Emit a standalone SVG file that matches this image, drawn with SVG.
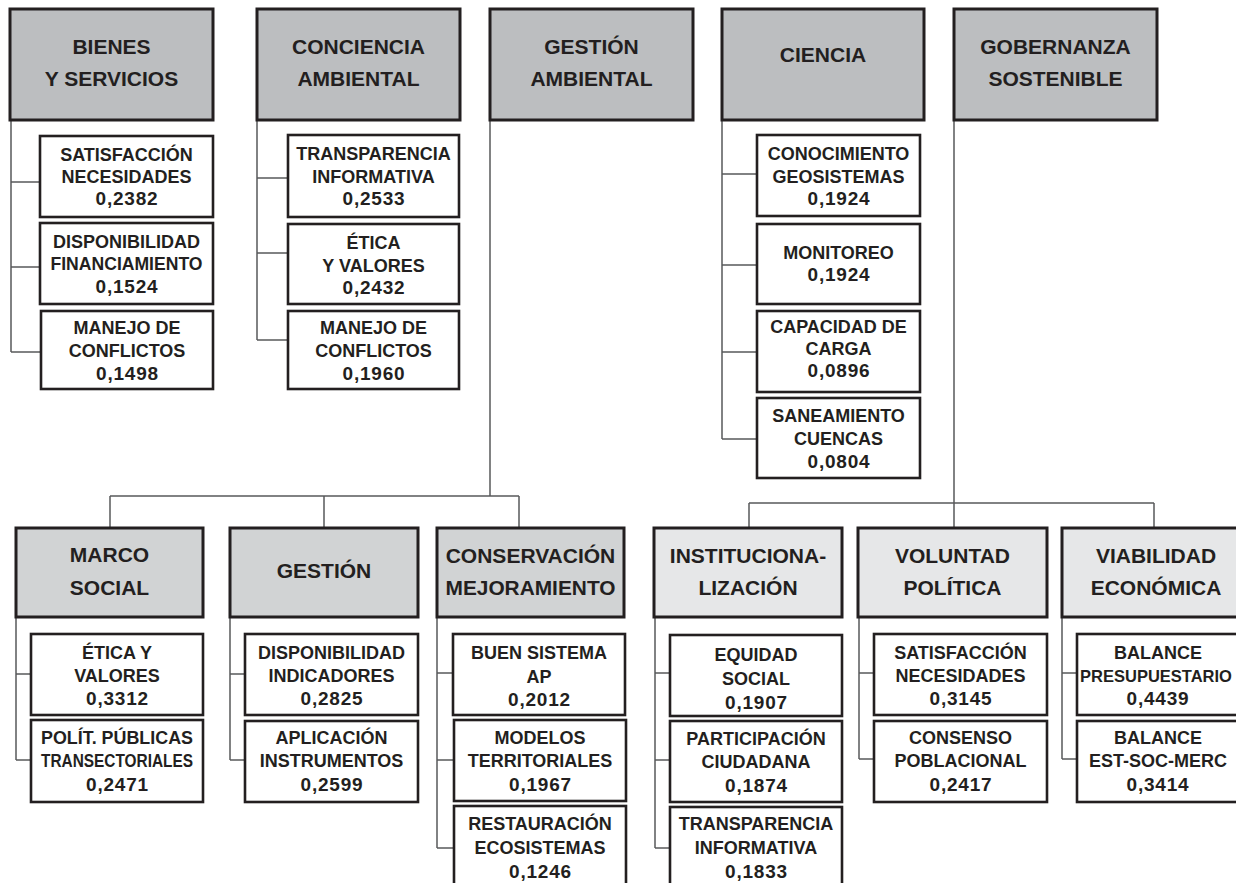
<svg xmlns="http://www.w3.org/2000/svg" width="1236" height="883" viewBox="0 0 1236 883">
<style>
.h1{fill:#bcbec0;stroke:#231f20;stroke-width:3}
.h2{fill:#d1d3d4;stroke:#231f20;stroke-width:3}
.h3{fill:#e6e7e8;stroke:#231f20;stroke-width:3}
.bx{fill:#ffffff;stroke:#231f20;stroke-width:2.6}
text{font-family:"Liberation Sans",Arial,sans-serif;font-weight:bold;fill:#231f20;text-anchor:middle}
.ht{font-size:21px}
.ct{font-size:18px}
.nm{font-size:19px;letter-spacing:0.8px}
.cn{fill:none;stroke:#58595b;stroke-width:1.5}
</style>
<rect width="1236" height="883" fill="#ffffff"/>
<g id="connectors">
<path class="cn" d="M11,120V352M11,182H40M11,267H40M11,352H41"/>
<path class="cn" d="M257,120V340M257,178H288M257,253H288M257,340H288"/>
<path class="cn" d="M490,120V496M110,496H519M110,496V528M324,496V528M519,496V528"/>
<path class="cn" d="M722,120V439M722,174H757M722,265H757M722,352H757M722,439H757"/>
<path class="cn" d="M954,120V528M749,503H1154M749,503V528M1154,503V528"/>
<path class="cn" d="M16,617V760M16,674H31M16,760H31"/>
<path class="cn" d="M230,617V760M230,674H245M230,760H245"/>
<path class="cn" d="M437,617V848M437,673H453M437,760H453M437,848H453"/>
<path class="cn" d="M655,617V848M655,673H670M655,760H670M655,848H670"/>
<path class="cn" d="M859,617V759M859,673H874M859,759H874"/>
<path class="cn" d="M1062,617V759M1062,673H1077M1062,759H1077"/>
</g>
<g id="bienes"><rect class="h1" x="10" y="9" width="203" height="111"/><text class="ht" x="111.5" y="54">BIENES</text><text class="ht" x="111.5" y="86">Y SERVICIOS</text></g>
<g id="bienes-1"><rect class="bx" x="40" y="136" width="173" height="81"/><text class="ct" x="126.5" y="161">SATISFACCIÓN</text><text class="ct" x="126.5" y="183">NECESIDADES</text><text class="nm" x="127" y="205">0,2382</text></g>
<g id="bienes-2"><rect class="bx" x="40" y="223" width="173" height="81"/><text class="ct" x="126.5" y="248">DISPONIBILIDAD</text><text class="ct" x="126.5" y="270" textLength="152" lengthAdjust="spacingAndGlyphs">FINANCIAMIENTO</text><text class="nm" x="127" y="293">0,1524</text></g>
<g id="bienes-3"><rect class="bx" x="41" y="311" width="172" height="78"/><text class="ct" x="127" y="334">MANEJO DE</text><text class="ct" x="127" y="357">CONFLICTOS</text><text class="nm" x="127.5" y="380">0,1498</text></g>
<g id="conciencia"><rect class="h1" x="257" y="9" width="203" height="111"/><text class="ht" x="358.5" y="54">CONCIENCIA</text><text class="ht" x="358.5" y="86">AMBIENTAL</text></g>
<g id="conciencia-1"><rect class="bx" x="288" y="135" width="171" height="82"/><text class="ct" x="373.5" y="160">TRANSPARENCIA</text><text class="ct" x="373.5" y="183">INFORMATIVA</text><text class="nm" x="374" y="205">0,2533</text></g>
<g id="conciencia-2"><rect class="bx" x="288" y="224" width="171" height="80"/><text class="ct" x="373.5" y="249">ÉTICA</text><text class="ct" x="373.5" y="272">Y VALORES</text><text class="nm" x="374" y="294">0,2432</text></g>
<g id="conciencia-3"><rect class="bx" x="288" y="311" width="171" height="78"/><text class="ct" x="373.5" y="334">MANEJO DE</text><text class="ct" x="373.5" y="357">CONFLICTOS</text><text class="nm" x="374" y="380">0,1960</text></g>
<g id="gestion-ambiental"><rect class="h1" x="490" y="9" width="203" height="111"/><text class="ht" x="591.5" y="54">GESTIÓN</text><text class="ht" x="591.5" y="86">AMBIENTAL</text></g>
<g id="ciencia"><rect class="h1" x="722" y="9" width="202" height="111"/><text class="ht" x="823" y="62">CIENCIA</text></g>
<g id="ciencia-1"><rect class="bx" x="757" y="135" width="163" height="81"/><text class="ct" x="838.5" y="160">CONOCIMIENTO</text><text class="ct" x="838.5" y="183">GEOSISTEMAS</text><text class="nm" x="839" y="205">0,1924</text></g>
<g id="ciencia-2"><rect class="bx" x="757" y="224" width="163" height="80"/><text class="ct" x="838.5" y="259">MONITOREO</text><text class="nm" x="839" y="281">0,1924</text></g>
<g id="ciencia-3"><rect class="bx" x="757" y="311" width="163" height="81"/><text class="ct" x="838.5" y="333">CAPACIDAD DE</text><text class="ct" x="838.5" y="355">CARGA</text><text class="nm" x="839" y="377">0,0896</text></g>
<g id="ciencia-4"><rect class="bx" x="757" y="398" width="163" height="80"/><text class="ct" x="838.5" y="422">SANEAMIENTO</text><text class="ct" x="838.5" y="445">CUENCAS</text><text class="nm" x="839" y="468">0,0804</text></g>
<g id="gobernanza"><rect class="h1" x="954" y="9" width="203" height="111"/><text class="ht" x="1055.5" y="54">GOBERNANZA</text><text class="ht" x="1055.5" y="86">SOSTENIBLE</text></g>
<g id="marco-social"><rect class="h2" x="16" y="528" width="187" height="89"/><text class="ht" x="109.5" y="562">MARCO</text><text class="ht" x="109.5" y="595">SOCIAL</text></g>
<g id="marco-1"><rect class="bx" x="31" y="634" width="172" height="81"/><text class="ct" x="117" y="659">ÉTICA Y</text><text class="ct" x="117" y="682">VALORES</text><text class="nm" x="117.5" y="705">0,3312</text></g>
<g id="marco-2"><rect class="bx" x="31" y="720" width="172" height="82"/><text class="ct" x="117" y="744" textLength="152" lengthAdjust="spacingAndGlyphs">POLÍT. PÚBLICAS</text><text class="ct" x="117" y="767" textLength="152" lengthAdjust="spacingAndGlyphs">TRANSECTORIALES</text><text class="nm" x="117.5" y="791">0,2471</text></g>
<g id="gestion"><rect class="h2" x="230" y="528" width="188" height="89"/><text class="ht" x="324" y="578">GESTIÓN</text></g>
<g id="gestion-1"><rect class="bx" x="245" y="634" width="173" height="81"/><text class="ct" x="331.5" y="659">DISPONIBILIDAD</text><text class="ct" x="331.5" y="682">INDICADORES</text><text class="nm" x="332" y="705">0,2825</text></g>
<g id="gestion-2"><rect class="bx" x="245" y="721" width="173" height="81"/><text class="ct" x="331.5" y="744">APLICACIÓN</text><text class="ct" x="331.5" y="767">INSTRUMENTOS</text><text class="nm" x="332" y="791">0,2599</text></g>
<g id="conservacion"><rect class="h2" x="437" y="528" width="187" height="89"/><text class="ht" x="530.5" y="563">CONSERVACIÓN</text><text class="ht" x="530.5" y="595" textLength="170" lengthAdjust="spacingAndGlyphs">MEJORAMIENTO</text></g>
<g id="conservacion-1"><rect class="bx" x="453" y="634" width="172" height="81"/><text class="ct" x="539" y="659">BUEN SISTEMA</text><text class="ct" x="539" y="683">AP</text><text class="nm" x="539.5" y="706">0,2012</text></g>
<g id="conservacion-2"><rect class="bx" x="454" y="720" width="172" height="81"/><text class="ct" x="540" y="744">MODELOS</text><text class="ct" x="540" y="767">TERRITORIALES</text><text class="nm" x="540.5" y="791">0,1967</text></g>
<g id="conservacion-3"><rect class="bx" x="454" y="806" width="172" height="90"/><text class="ct" x="540" y="830">RESTAURACIÓN</text><text class="ct" x="540" y="854">ECOSISTEMAS</text><text class="nm" x="540.5" y="878">0,1246</text></g>
<g id="institucionalizacion"><rect class="h3" x="654" y="528" width="188" height="89"/><text class="ht" x="748" y="563">INSTITUCIONA-</text><text class="ht" x="748" y="595">LIZACIÓN</text></g>
<g id="inst-1"><rect class="bx" x="670" y="635" width="172" height="81"/><text class="ct" x="756" y="661">EQUIDAD</text><text class="ct" x="756" y="685">SOCIAL</text><text class="nm" x="756.5" y="709">0,1907</text></g>
<g id="inst-2"><rect class="bx" x="670" y="721" width="172" height="81"/><text class="ct" x="756" y="745">PARTICIPACIÓN</text><text class="ct" x="756" y="768">CIUDADANA</text><text class="nm" x="756.5" y="792">0,1874</text></g>
<g id="inst-3"><rect class="bx" x="670" y="807" width="172" height="90"/><text class="ct" x="756" y="830">TRANSPARENCIA</text><text class="ct" x="756" y="854">INFORMATIVA</text><text class="nm" x="756.5" y="878">0,1833</text></g>
<g id="voluntad"><rect class="h3" x="858" y="528" width="189" height="89"/><text class="ht" x="952.5" y="563">VOLUNTAD</text><text class="ht" x="952.5" y="595">POLÍTICA</text></g>
<g id="voluntad-1"><rect class="bx" x="874" y="634" width="173" height="81"/><text class="ct" x="960.5" y="659">SATISFACCIÓN</text><text class="ct" x="960.5" y="682">NECESIDADES</text><text class="nm" x="961" y="705">0,3145</text></g>
<g id="voluntad-2"><rect class="bx" x="874" y="721" width="173" height="81"/><text class="ct" x="960.5" y="744">CONSENSO</text><text class="ct" x="960.5" y="767">POBLACIONAL</text><text class="nm" x="961" y="791">0,2417</text></g>
<g id="viabilidad"><rect class="h3" x="1062" y="528" width="190" height="89"/><text class="ht" x="1156" y="563">VIABILIDAD</text><text class="ht" x="1156" y="595">ECONÓMICA</text></g>
<g id="viabilidad-1"><rect class="bx" x="1077" y="634" width="175" height="81"/><text class="ct" x="1158" y="659">BALANCE</text><text x="1156" y="682" style="font-size:16.5px">PRESUPUESTARIO</text><text class="nm" x="1158" y="705">0,4439</text></g>
<g id="viabilidad-2"><rect class="bx" x="1077" y="721" width="175" height="81"/><text class="ct" x="1158" y="744">BALANCE</text><text class="ct" x="1158" y="767">EST-SOC-MERC</text><text class="nm" x="1158" y="791">0,3414</text></g>
</svg>
